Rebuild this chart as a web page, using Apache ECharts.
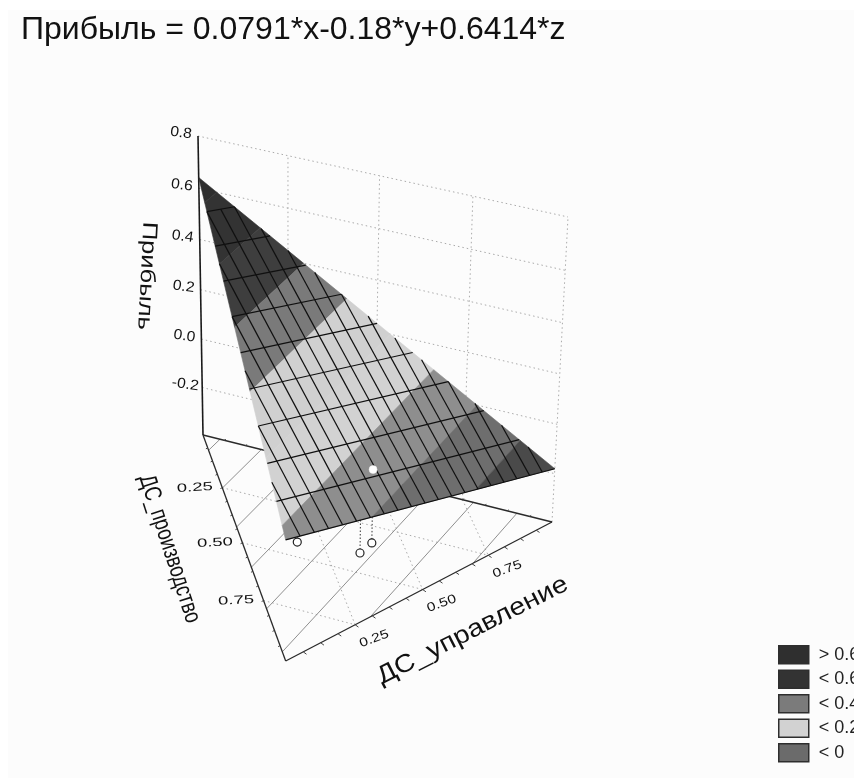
<!DOCTYPE html>
<html><head><meta charset="utf-8">
<style>html,body{margin:0;padding:0;background:#fff}#c{width:854px;height:778px}</style>
<script src="https://cdn.jsdelivr.net/npm/echarts@6/dist/echarts.min.js"></script>
</head><body><div id="c"></div>
<script>
// ---- data ----
const titleText = 'Прибыль = 0.0791*x-0.18*y+0.6414*z';
const heightTicks = [0.8, 0.6, 0.4, 0.2, 0.0, -0.2];
const heightTickLabels = ['0.8', '0.6', '0.4', '0.2', '0.0', '-0.2'];
const heightMin = -0.4, heightMax = 0.8;
const floorTicks = [0.25, 0.50, 0.75];
const floorTickLabels = ['0.25', '0.50', '0.75'];
// surface height at the triangle corners [управление, производство, Прибыль]
const surfaceCorners = [[0, 0, 0.6414], [0, 1, 0.0791], [1, 0, -0.18]];
const contourLevels = [0.6, 0.5, 0.4, 0.3, 0.2, 0.1, 0.0, -0.1];
const legendNames = ['> 0.6', '< 0.6', '< 0.4', '< 0.2', '< 0'];
// surface bands per legend class [low, high]
const bandsGt06 = [[0.6, 0.7]];
const bandsLt06 = [[0.5, 0.6], [0.4, 0.5]];
const bandsLt04 = [[0.3, 0.4]];
const bandsLt02 = [[0.2, 0.3], [0.1, 0.2]];
const bandsLt0 = [[0.0, 0.1], [-0.1, 0.0], [-0.2, -0.1]];
// mesh: cross lines at these totals (управление + производство)
const meshCrossTotals = [0.1,0.2,0.3,0.4,0.5,0.6,0.7,0.8,0.9,1.0];
// mesh: long lines end on the bottom edge at these управление values
const meshEnds = [0.05,0.1,0.15,0.2,0.25,0.3,0.35,0.4,0.45,0.5,0.55,0.6,0.65,0.7,0.75,0.8,0.85,0.9,0.95];
const meshSlant = [1/3, 2/3]; // share of управление / производство along a long line
// observations [управление, производство, Прибыль]
const floorPoints = [[0.172, 0.427, 0.05], [0.354, 0.401, 0.05], [0.404, 0.336, 0.05]];
const raisedPoint = [[0.404, 0.336, -0.1]];

// ---- styles ----
const bandColor = {'0.6':'#2e2e2e','0.5':'#333333','0.4':'#3e3e3e','0.3':'#7a7a7a','0.2':'#d0d0d0','0.1':'#d2d2d2','0':'#8e8e8e','-0.1':'#6e6e6e','-0.2':'#4a4a4a'};
const legendColors = ['#2f2f2f', '#333333', '#7b7b7b', '#d2d2d2', '#6b6b6b'];
const FONT = '"Liberation Sans", Arial, sans-serif';

// ---- camera: projective map (управление, производство, height) -> canvas ----
const camO = [203, 435], camU = [552, 522], camV = [285.7, 661], camH = [198, 136];
const wU = 0.9656, wV = 0.912, wH = 0.9447;
function project(u, p, val) {
  const h = (val - heightMin) / (heightMax - heightMin);
  const a = 1 - u - p - h, b = wU * u, c = wV * p, d = wH * h, D = a + b + c + d;
  return [(a*camO[0] + b*camU[0] + c*camV[0] + d*camH[0]) / D,
          (a*camO[1] + b*camU[1] + c*camV[1] + d*camH[1]) / D];
}
function surfaceAt(u, p) {
  const [A, B, C] = surfaceCorners;
  return A[2] * (1 - u - p) + B[2] * p + C[2] * u;
}
function clipBand(lo, hi) {
  let poly = surfaceCorners.map(c => [c[0], c[1], c[2]]);
  const clip = (keep, lvl) => {
    const out = [];
    poly.forEach((a, i) => {
      const b = poly[(i + 1) % poly.length];
      const ka = keep(a[2]), kb = keep(b[2]);
      if (ka) out.push(a);
      if (ka !== kb) {
        const t = (lvl - a[2]) / (b[2] - a[2]);
        out.push([a[0] + t*(b[0]-a[0]), a[1] + t*(b[1]-a[1]), lvl]);
      }
    });
    poly = out;
  };
  clip(v => v >= lo, lo);
  clip(v => v <= hi, hi);
  return poly;
}
function contourSegment(lvl) {
  const pts = [];
  surfaceCorners.forEach((a, i) => {
    const b = surfaceCorners[(i + 1) % 3];
    if ((a[2] - lvl) * (b[2] - lvl) < 0) {
      const t = (lvl - a[2]) / (b[2] - a[2]);
      pts.push([a[0] + t*(b[0]-a[0]), a[1] + t*(b[1]-a[1])]);
    }
  });
  return pts;
}

// ---- segments built from the data ----
const H0 = heightMin, H1 = heightMax;
const wallDots = heightTicks.map(t => [0,0,t,1,0,t])
  .concat(floorTicks.concat([1]).map(t => [t,0,H0,t,0,H1]));
const floorDots = [];
floorTicks.forEach(t => {
  floorDots.push([t,0,H0,t,1-t,H0]);
  floorDots.push([0,t,H0,1-t,t,H0]);
});
const floorContours = contourLevels.map(l => {
  const s = contourSegment(l);
  return [s[0][0], s[0][1], H0, s[1][0], s[1][1], H0];
});
const frame = [[0,0,H0,0,1,H0],[0,1,H0,1,0,H0],[1,0,H0,0,0,H0]];
const zAxisLine = [[0,0,H0,0,0,H1]];
const minor = [];
for (let k = 1; k < 16; k++) minor.push(k / 16);
const frameTicks = [];
const tk = 0.007;
minor.forEach(t => {
  frameTicks.push([0,t,H0,-tk,t+tk,H0]);
  frameTicks.push([t,1-t,H0,t+tk,1-t+tk,H0]);
  frameTicks.push([t,0,H0,t+tk,-tk,H0]);
});
const floorMarks = floorPoints.map(q => [q[0],q[1],H0]);
const droplines = floorPoints.map(q => [q[0],q[1],H0,q[0],q[1],q[2]]);
const mesh = [];
meshCrossTotals.forEach(t => mesh.push([t,0,surfaceAt(t,0),0,t,surfaceAt(0,t)]));
meshEnds.forEach(e => {
  const end = [e, 1 - e];
  // walk back along the slant until an edge of the triangle or the first cross line
  const back = Math.min(end[0] / meshSlant[0], end[1] / meshSlant[1], 1 - meshCrossTotals[0]);
  const u0 = end[0] - back * meshSlant[0], p0 = end[1] - back * meshSlant[1];
  mesh.push([u0,p0,surfaceAt(u0,p0),end[0],end[1],surfaceAt(end[0],end[1])]);
});

function lineSeries(name, data, style, z) {
  return { type:'custom', name, data, z, silent:true, clip:false, animation:false,
    coordinateSystem:'cartesian2d', encode:{x:0,y:1},
    renderItem(params, api) {
      const a = api.coord(project(api.value(0), api.value(1), api.value(2)));
      const b = api.coord(project(api.value(3), api.value(4), api.value(5)));
      return {type:'line', shape:{x1:a[0],y1:a[1],x2:b[0],y2:b[1]}, style};
    } };
}
function bandSeries(name, bands, z, color) {
  return { type:'custom', name, data:bands, z, silent:true, clip:false, animation:false,
    coordinateSystem:'cartesian2d', encode:{x:0,y:1}, itemStyle:{color},
    renderItem(params, api) {
      const lo = api.value(0), hi = api.value(1);
      const poly = clipBand(lo, hi);
      if (poly.length < 3) return null;
      const pts = poly.map(q => api.coord(project(q[0], q[1], q[2])));
      const c = bandColor[String(+lo.toFixed(1))];
      return {type:'polygon', shape:{points:pts}, style:{fill:c, stroke:c, lineWidth:0.6}};
    } };
}
function pointSeries(name, data, style, r, z) {
  return { type:'custom', name, data, z, silent:true, clip:false, animation:false,
    coordinateSystem:'cartesian2d', encode:{x:0,y:1},
    renderItem(params, api) {
      const a = api.coord(project(api.value(0), api.value(1), api.value(2)));
      return {type:'circle', shape:{cx:a[0],cy:a[1],r}, style};
    } };
}
// text anchored to the projected tick, [u, p, val, dx, dy, rot(deg), scaleX, scaleY, fontSize], label
function textSeries(name, anchors, labels, z) {
  return { type:'custom', name, data:anchors, z, silent:true, clip:false, animation:false,
    coordinateSystem:'cartesian2d', encode:{x:0,y:1},
    renderItem(params, api) {
      const a = api.coord(project(api.value(0), api.value(1), api.value(2)));
      return {type:'text', x:a[0]+api.value(3), y:a[1]+api.value(4),
        rotation:api.value(5)*Math.PI/180, scaleX:api.value(6), scaleY:api.value(7),
        style:{text:labels[params.dataIndex], fill:'#111', font:api.value(8)+'px '+FONT, align:'center', verticalAlign:'middle'}};
    } };
}
const heightAnchors = heightTicks.map(t => [0,0,t,-17,-3,-8,1.12,1.05,14]);
const prodAnchors = floorTicks.map(t => [0,t,H0,-27.5,0,3,1.42,0.92,13]);
const uprAnchors = floorTicks.map(t => [t,1-t,H0,19,14,20,1.2,0.95,13]);
const axisNames = ['Прибыль', 'ДС_производство', 'ДС_управление'];
const axisNameAnchors = [
  [0,0,0.2,-54,-14,-93,1.28,1.05,20],
  [0,0.5,H0,-73,6,-72,0.93,1.2,20],
  [0.5,0.5,H0,50,41,27,1.42,1.25,20]
];

const chart = echarts.init(document.getElementById('c'), null, {renderer:'canvas'});
chart.setOption({
  animation:false,
  backgroundColor:'#ffffff',
  title:{text:titleText, left:21, top:14, padding:0,
    textStyle:{fontFamily:FONT, fontSize:32, fontWeight:'normal', color:'#111'}},
  grid:{left:0, right:0, top:0, bottom:0},
  xAxis:{type:'value', min:0, max:854, show:false},
  yAxis:{type:'value', min:0, max:778, inverse:true, show:false},
  legend:{left:778, top:645, orient:'vertical', padding:0, itemWidth:30, itemHeight:18, itemGap:5,
    icon:'rect', selectedMode:false,
    textStyle:{fontFamily:FONT, fontSize:18, color:'#222', padding:[0,0,0,5]},
    data:legendNames.map((n,i) => ({name:n, icon:'rect',
      itemStyle:{color:legendColors[i], borderColor:'#2e2e2e', borderWidth:1.5}}))},
  graphic:[{type:'rect', z:-10, silent:true, shape:{x:8,y:10,width:846,height:768}, style:{fill:'#fcfcfc'}}],
  series:[
    lineSeries('wall grid', wallDots, {stroke:'#aaaaaa', lineWidth:1, lineDash:[1.5,3]}, 1),
    lineSeries('floor grid', floorDots, {stroke:'#aaaaaa', lineWidth:1, lineDash:[1.5,3]}, 1),
    lineSeries('floor contours', floorContours, {stroke:'#8f8f8f', lineWidth:1}, 2),
    lineSeries('frame', frame, {stroke:'#2a2a2a', lineWidth:1.3}, 3),
    lineSeries('z axis', zAxisLine, {stroke:'#1a1a1a', lineWidth:1.6}, 3),
    lineSeries('frame ticks', frameTicks, {stroke:'#444', lineWidth:1}, 3),
    lineSeries('droplines', droplines, {stroke:'#333', lineWidth:1, lineDash:[1.5,2]}, 4),
    pointSeries('points', floorMarks, {fill:'#fff', stroke:'#222', lineWidth:1.2}, 4, 5),
    bandSeries(legendNames[0], bandsGt06, 6, legendColors[0]),
    bandSeries(legendNames[1], bandsLt06, 6, legendColors[1]),
    bandSeries(legendNames[2], bandsLt04, 6, legendColors[2]),
    bandSeries(legendNames[3], bandsLt02, 6, legendColors[3]),
    bandSeries(legendNames[4], bandsLt0, 6, legendColors[4]),
    lineSeries('mesh', mesh, {stroke:'#101010', lineWidth:1.2}, 7),
    pointSeries('raised', raisedPoint, {fill:'#fff', stroke:'#eee', lineWidth:0.5}, 4, 8),
    textSeries('height labels', heightAnchors, heightTickLabels, 9),
    textSeries('производство labels', prodAnchors, floorTickLabels, 9),
    textSeries('управление labels', uprAnchors, floorTickLabels, 9),
    textSeries('axis names', axisNameAnchors, axisNames, 9)
  ]
});
</script></body></html>
